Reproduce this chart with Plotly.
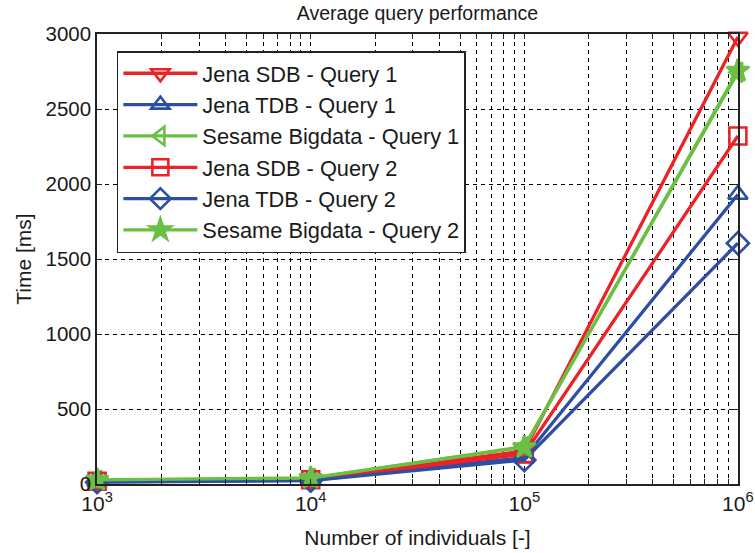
import plotly.graph_objects as go

x_vals = [1e3, 1e4, 1e5, 1e6]
series_names = [
    "Jena SDB - Query 1",
    "Jena TDB - Query 1",
    "Sesame Bigdata - Query 1",
    "Jena SDB - Query 2",
    "Jena TDB - Query 2",
    "Sesame Bigdata - Query 2",
]
sdb_q1 = [20, 30, 220, 2980]
tdb_q1 = [15, 25, 175, 1930]
sesame_q1 = [25, 38, 250, 2745]
sdb_q2 = [18, 28, 200, 2320]
tdb_q2 = [12, 22, 160, 1605]
sesame_q2 = [28, 40, 245, 2755]
x_decades = [3, 4, 5]
x_major_labels = {1e3: "10<sup>3</sup>", 1e4: "10<sup>4</sup>",
                  1e5: "10<sup>5</sup>", 1e6: "10<sup>6</sup>"}

# log-axis grid positions (1..9 per decade) with labels only at powers of ten
x_tickvals = [m * 10 ** d for d in x_decades for m in range(1, 10)] + [1e6]
x_ticktext = [x_major_labels.get(v, "") for v in x_tickvals]

RED = "#ec2227"
BLUE = "#2c4fa3"
GREEN = "#6bbf44"

styles = [
    (RED, "triangle-down-open"),
    (BLUE, "triangle-up-open"),
    (GREEN, "triangle-left-open"),
    (RED, "square-open"),
    (BLUE, "diamond-open"),
    (GREEN, "star"),
]
data = [sdb_q1, tdb_q1, sesame_q1, sdb_q2, tdb_q2, sesame_q2]

fig = go.Figure()
for name, ys, (col, sym) in zip(series_names, data, styles):
    fig.add_trace(go.Scatter(
        x=x_vals, y=ys, name=name, mode="lines+markers",
        line=dict(color=col, width=3.3),
        marker=dict(symbol=sym, size=17, color=col,
                    line=dict(color=col, width=2.6)),
        cliponaxis=False,
    ))

FONT = "Liberation Sans, Arial, sans-serif"
TXT = "#1a1a1a"
grid = dict(showgrid=True, gridcolor="black", gridwidth=1, griddash="4px,4px")

fig.update_layout(
    width=755, height=553,
    margin=dict(l=97, r=17, t=34, b=69),
    paper_bgcolor="white", plot_bgcolor="white",
    font=dict(family=FONT, size=21, color=TXT),
    title=dict(text="Average query performance", x=0.5, xref="paper", xanchor="center",
               y=1 - 13 / 553, yanchor="middle", font=dict(size=19.5, color=TXT)),
    showlegend=True,
    legend=dict(x=0.031, y=0.962, xanchor="left", yanchor="top",
                bgcolor="white", bordercolor="#222", borderwidth=1.5,
                font=dict(size=21.8, color=TXT), tracegroupgap=0, itemwidth=74),
    xaxis=dict(
        type="log", range=[2.9995, 6.0005], automargin=False,
        tickmode="array", tickvals=x_tickvals, ticktext=x_ticktext,
        ticks="inside", ticklen=5, tickcolor="#222",
        showline=True, linecolor="#222", linewidth=1.5, mirror="ticks",
        zeroline=False,
        title=dict(text="Number of individuals [-]", font=dict(size=21, color=TXT), standoff=16),
        tickfont=dict(size=21, color=TXT),
        **grid,
    ),
    yaxis=dict(
        range=[0, 3000], dtick=500, automargin=False,
        ticks="inside", ticklen=5, tickcolor="#222",
        showline=True, linecolor="#222", linewidth=1.5, mirror="ticks",
        zeroline=False,
        title=dict(text="Time [ms]", font=dict(size=21, color=TXT), standoff=8),
        tickfont=dict(size=20.5, color=TXT),
        **grid,
    ),
)

fig.write_html("out.html")
